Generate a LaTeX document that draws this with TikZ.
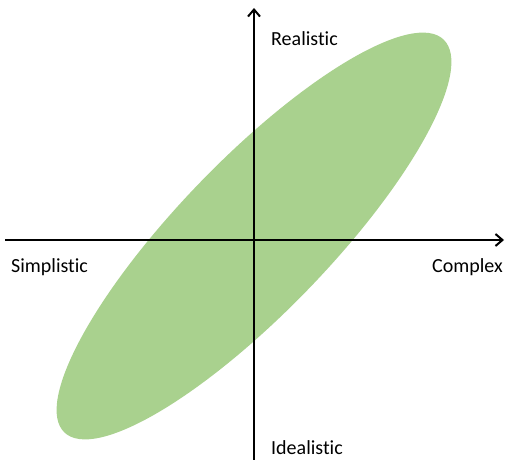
\documentclass[tikz,border=0pt]{standalone}
\usepackage{fontspec}
\setmainfont{Carlito}[Ligatures=NoCommon]
\usetikzlibrary{arrows.meta}
\definecolor{blobgreen}{HTML}{A9D18E}
\begin{document}
\begin{tikzpicture}[x=1pt,y=-1pt,
  axis/.style={line width=2pt,-{Straight Barb[length=7pt,width=12pt,line width=2pt]}},
  lbl/.style={font=\fontsize{20}{24}\selectfont,inner sep=0pt,anchor=west}]
\useasboundingbox (0,0) rectangle (506,460);
\fill[blobgreen,rotate around={46:(254,236)}] (254,236) ellipse [x radius=273, y radius=76];
\coordinate (xl) at (5,240);
\coordinate (xr) at (504,240);
\coordinate (yb) at (254,460);
\coordinate (yt) at (254,8);
\draw[axis] (xl) -- (xr);
\draw[axis] (yb) -- (yt);
\node[lbl] (real) at (271,39) {Realistic};
\node[lbl] (ideal) at (271,448) {Idealistic};
\node[lbl] (simp) at (11,267) {Simplistic};
\node[lbl] (comp) at (432,267) {Complex};
\end{tikzpicture}
\end{document}
